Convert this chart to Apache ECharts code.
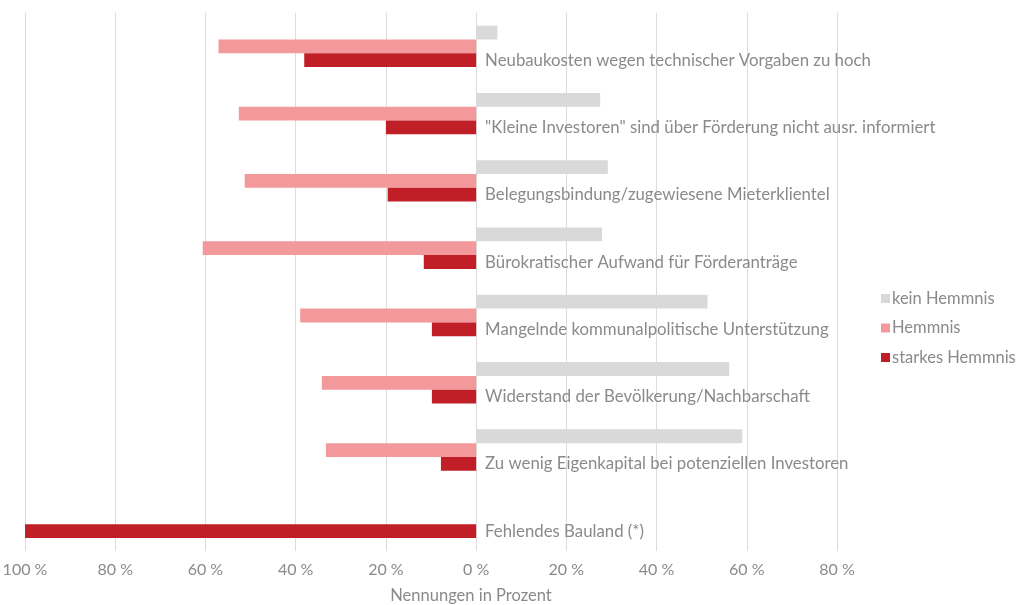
<!DOCTYPE html>
<html>
<head>
<meta charset="utf-8">
<script src="https://cdn.jsdelivr.net/npm/echarts@6/dist/echarts.min.js"></script>
<style>
  html, body { margin: 0; padding: 0; background: #fff; }
  #chart { width: 1021px; height: 605px; }
</style>
</head>
<body>
<div id="chart"></div>
<script>
const categories = [
  'Neubaukosten wegen technischer Vorgaben zu hoch',
  '"Kleine Investoren" sind über Förderung nicht ausr. informiert',
  'Belegungsbindung/zugewiesene Mieterklientel',
  'Bürokratischer Aufwand für Förderanträge',
  'Mangelnde kommunalpolitische Unterstützung',
  'Widerstand der Bevölkerung/Nachbarschaft',
  'Zu wenig Eigenkapital bei potenziellen Investoren',
  'Fehlendes Bauland (*)'
]
// kein Hemmnis nach rechts, Hemmnis / starkes Hemmnis nach links (negativ)
const keinHemmnis = [4.7, 27.5, 29.2, 27.9, 51.3, 56.1, 59.0, null]
const hemmnis = [-57.1, -52.6, -51.3, -60.6, -39.0, -34.2, -33.3, null]
const starkesHemmnis = [-38.1, -20.0, -19.6, -11.6, -9.8, -9.8, -7.8, -100]
const tickMin = -100
const tickMax = 80

const fontFamily = 'Lato, "Open Sans", sans-serif'
const chart = echarts.init(document.getElementById('chart'))

const gridLeft = 25
const gridRight = 837
// Kategorie-Achse sitzt bei 0 %
const zeroX = gridLeft + (0 - tickMin) / (tickMax - tickMin) * (gridRight - gridLeft)

const barSeries = (name, data, color) => ({
  name: name,
  type: 'bar',
  data: data,
  barWidth: 13.8,
  barGap: '0%',
  itemStyle: { color: color },
  emphasis: { disabled: true }
})

const option = {
  animation: false,
  textStyle: { fontFamily: fontFamily },
  legend: {
    orient: 'vertical',
    left: 876,
    top: 285,
    itemWidth: 9,
    itemHeight: 9,
    itemGap: 12.5,
    icon: 'rect',
    textStyle: { color: '#8a8a8a', fontSize: 16.5, fontFamily: fontFamily, padding: [0, 0, 0, -3] },
    data: ['kein Hemmnis', 'Hemmnis', 'starkes Hemmnis']
  },
  grid: {
    left: gridLeft,
    right: 1021 - gridRight,
    top: 12.7,
    bottom: 54,
    containLabel: false,
    outerBoundsMode: 'none'
  },
  xAxis: {
    type: 'value',
    min: tickMin,
    max: tickMax,
    interval: 20,
    axisLine: { show: false },
    axisTick: { show: false },
    axisLabel: {
      color: '#8a8a8a',
      fontSize: 16,
      margin: 11,
      formatter: v => Math.abs(v) + ' %'
    },
    splitLine: { show: true, lineStyle: { color: '#dcdcdc', width: 1 } },
    name: 'Nennungen in Prozent',
    nameLocation: 'middle',
    nameGap: 36,
    nameTextStyle: { color: '#8a8a8a', fontSize: 16.5, padding: [0, 0, 0, 80] }
  },
  yAxis: {
    type: 'category',
    inverse: true,
    data: categories,
    offset: gridLeft - zeroX,
    z: 5,
    axisLine: { show: false },
    axisTick: { show: false },
    splitLine: { show: false },
    axisLabel: {
      inside: true,
      margin: 9,
      color: '#8a8a8a',
      fontSize: 16.8,
      verticalAlign: 'top',
      lineHeight: 28
    }
  },
  series: [
    barSeries('kein Hemmnis', keinHemmnis, '#d9d9d9'),
    barSeries('Hemmnis', hemmnis, '#f4999b'),
    barSeries('starkes Hemmnis', starkesHemmnis, '#c01f28')
  ]
}
chart.setOption(option)
</script>
</body>
</html>
